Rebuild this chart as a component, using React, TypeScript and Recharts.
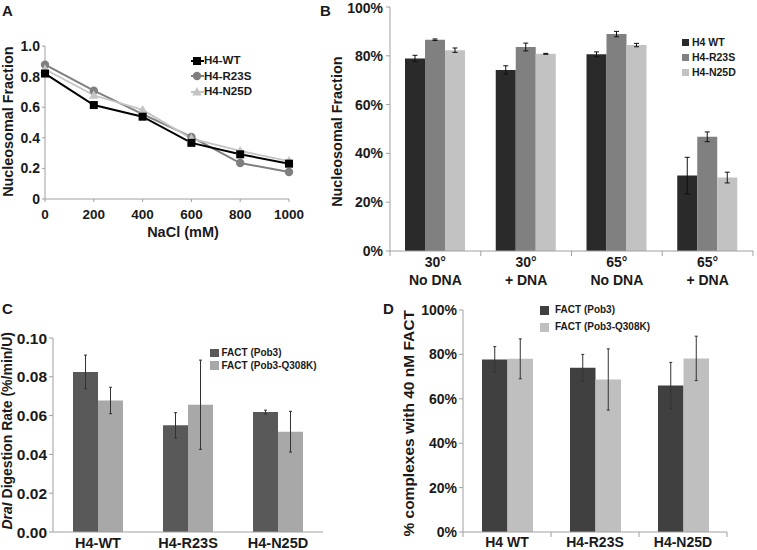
import React from 'react';
import { LineChart, Line, BarChart, Bar, XAxis, YAxis, Legend, ErrorBar } from 'recharts';

const FONT = '"Liberation Sans", Arial, Helvetica, sans-serif';
const INK = '#1a1a1a';
const AXIS = '#a0a0a0';

// A: salt titration
const saltConc = [0, 200, 400, 600, 800, 1000];
const fractionTicks = [0, 0.2, 0.4, 0.6, 0.8, 1.0];
const wtSalt = [0.82, 0.614, 0.538, 0.367, 0.292, 0.231];
const r23sSalt = [0.878, 0.708, 0.555, 0.406, 0.235, 0.176];
const n25dSalt = [0.848, 0.678, 0.582, 0.395, 0.314, 0.248];

// B: nucleosome assembly
const bTemps = ['30°', '30°', '65°', '65°'];
const bDna = ['No DNA', '+ DNA', 'No DNA', '+ DNA'];
const pctTicks = [0, 20, 40, 60, 80, 100];
const wtNuc = [78.9, 74.2, 80.6, 30.9];
const wtNucErr = [1.3, 1.7, 1.0, 7.5];
const r23sNuc = [86.6, 83.6, 88.9, 46.8];
const r23sNucErr = [0.3, 1.6, 1.1, 2.0];
const n25dNuc = [82.3, 80.8, 84.4, 30.1];
const n25dNucErr = [0.9, 0.2, 0.7, 2.2];

// C: DraI digestion
const variantsC = ['H4-WT', 'H4-R23S', 'H4-N25D'];
const rateTicks = [0, 0.02, 0.04, 0.06, 0.08, 0.1];
const pob3Rate = [0.0825, 0.055, 0.0618];
const pob3RateErr = [0.0087, 0.0065, 0.001];
const q308kRate = [0.0678, 0.0656, 0.0517];
const q308kRateErr = [0.0068, 0.023, 0.0105];

// D: complexes with 40 nM FACT
const variantsD = ['H4 WT', 'H4-R23S', 'H4-N25D'];
const pob3Complex = [77.7, 74, 66];
const pob3ComplexErr = [5.8, 6, 10.4];
const q308kComplex = [78, 68.7, 78.2];
const q308kComplexErr = [9, 13.8, 10];

const saltData = saltConc.map((nacl, i) => ({ nacl, wt: wtSalt[i], r23s: r23sSalt[i], n25d: n25dSalt[i] }));
const nucData = bTemps.map((t, i) => ({
  cond: `${t}|${bDna[i]}`,
  wt: wtNuc[i], wtErr: wtNucErr[i],
  r23s: r23sNuc[i], r23sErr: r23sNucErr[i],
  n25d: n25dNuc[i], n25dErr: n25dNucErr[i],
}));
const rateData = variantsC.map((v, i) => ({
  v, pob3: pob3Rate[i], pob3Err: pob3RateErr[i], q308k: q308kRate[i], q308kErr: q308kRateErr[i],
}));
const complexData = variantsD.map((v, i) => ({
  v, pob3: pob3Complex[i], pob3Err: pob3ComplexErr[i], q308k: q308kComplex[i], q308kErr: q308kComplexErr[i],
}));

const tickStyle = (size: number) => ({ fill: INK, fontSize: size, fontWeight: 700, fontFamily: FONT });

type Shape = 'square' | 'circle' | 'triangle';
const shapeOf: Record<string, Shape> = { wt: 'square', r23s: 'circle', n25d: 'triangle' };
const seriesOrder = ['wt', 'r23s', 'n25d', 'pob3', 'q308k'];

function marker(shape: Shape, cx: number, cy: number, color: string, key?: string) {
  if (shape === 'square') return <rect key={key} x={cx - 4} y={cy - 4} width={8} height={8} fill={color} />;
  if (shape === 'circle') return <circle key={key} cx={cx} cy={cy} r={4.2} fill={color} />;
  return <path key={key} d={`M${cx},${cy - 5}L${cx + 4.8},${cy + 3.5}L${cx - 4.8},${cy + 3.5}Z`} fill={color} />;
}

const dotFor = (shape: Shape, color: string) => (p: any) => marker(shape, p.cx, p.cy, color, `${shape}-${p.index}`);

const sorted = (payload: any[] = []) =>
  [...payload].sort((a, b) => seriesOrder.indexOf(a.dataKey) - seriesOrder.indexOf(b.dataKey));

// legend with line + marker (panel A)
const lineLegend = (props: any) => (
  <div style={{ fontFamily: FONT, fontWeight: 700, fontSize: 11.5, color: INK }}>
    {sorted(props.payload).map((p: any) => (
      <div key={p.value} style={{ display: 'flex', alignItems: 'center', height: 15.5 }}>
        <svg width={13} height={10} style={{ display: 'block' }}>
          <line x1={0} x2={13} y1={5} y2={5} stroke={p.color} strokeWidth={2} />
          {marker(shapeOf[p.dataKey], 6, 5, p.color)}
        </svg>
        <span style={{ lineHeight: 1 }}>{p.value}</span>
      </div>
    ))}
  </div>
);

// legend with square swatches (B, C, D)
const boxLegend = (size: number, box: number, gap: number, row: number) => (props: any) => (
  <div style={{ fontFamily: FONT, fontWeight: 700, fontSize: size, color: INK }}>
    {sorted(props.payload).map((p: any) => (
      <div key={p.value} style={{ display: 'flex', alignItems: 'center', height: row }}>
        <span style={{ display: 'inline-block', width: box, height: box, background: p.color, marginRight: gap }} />
        <span style={{ lineHeight: 1 }}>{p.value}</span>
      </div>
    ))}
  </div>
);

// category tick: text rows under the axis, optional tick marks at band edges
function bandTick(band: number, count: number, rows: number[], size: number, edges: boolean) {
  return (props: any) => {
    const { x, y, index, payload } = props;
    const parts = String(payload.value).split('|');
    return (
      <g>
        {edges && <line x1={x - band / 2} x2={x - band / 2} y1={y} y2={y + 5} stroke={AXIS} />}
        {edges && index === count - 1 && <line x1={x + band / 2} x2={x + band / 2} y1={y} y2={y + 5} stroke={AXIS} />}
        {parts.map((t, k) => (
          <text key={k} x={x} y={y + rows[k]} textAnchor="middle" fill={INK} fontSize={size} fontWeight={700} fontFamily={FONT}>
            {t}
          </text>
        ))}
      </g>
    );
  };
}

function PanelA() {
  return (
    <div style={{ position: 'absolute', left: 0, top: 0 }}>
      <LineChart width={330} height={250} data={saltData} margin={{ top: 46, right: 41, bottom: 21, left: 10 }}>
        <XAxis dataKey="nacl" type="number" domain={[0, 1000]} ticks={saltConc} tick={tickStyle(13.5)}
          tickSize={3} tickMargin={7} height={30} axisLine={{ stroke: AXIS }} tickLine={{ stroke: AXIS }} />
        <YAxis type="number" domain={[0, 1]} ticks={fractionTicks} width={35} tick={tickStyle(14)}
          tickFormatter={(v: number) => (v === 0 ? '0' : v.toFixed(1))} tickSize={3} tickMargin={2}
          axisLine={{ stroke: AXIS }} tickLine={{ stroke: AXIS }} />
        <Line dataKey="r23s" name="H4-R23S" stroke="#7f7f7f" strokeWidth={2} dot={dotFor('circle', '#7f7f7f')} isAnimationActive={false} />
        <Line dataKey="n25d" name="H4-N25D" stroke="#c4c4c4" strokeWidth={1.8} dot={dotFor('triangle', '#c4c4c4')} isAnimationActive={false} />
        <Line dataKey="wt" name="H4-WT" stroke="#000000" strokeWidth={2} dot={dotFor('square', '#000000')} isAnimationActive={false} />
        <Legend layout="vertical" align="center" verticalAlign="middle" content={lineLegend}
          wrapperStyle={{ left: 191, top: 53, width: 'auto', height: 'auto' }} />
      </LineChart>
    </div>
  );
}

const B_W = 427;
const B_M = { top: 7, right: 4, bottom: 9, left: 10 };
const B_YW = 50;
const B_BAND = (B_W - B_M.right - B_M.left - B_YW) / nucData.length;

function PanelB() {
  return (
    <div style={{ position: 'absolute', left: 330, top: 0 }}>
      <BarChart width={B_W} height={300} data={nucData} margin={B_M} barSize={20} barGap={0}>
        <XAxis dataKey="cond" tickLine={false} tickSize={0} tickMargin={0} height={40} interval={0}
          axisLine={{ stroke: AXIS }} tick={bandTick(B_BAND, nucData.length, [16.3, 34], 14, true)} />
        <YAxis type="number" domain={[0, 100]} ticks={pctTicks} width={B_YW} tick={tickStyle(14)}
          tickFormatter={(v: number) => `${v}%`} tickSize={4} tickMargin={3}
          axisLine={{ stroke: AXIS }} tickLine={{ stroke: AXIS }} />
        <Bar dataKey="wt" name="H4 WT" fill="#2a2a2a" isAnimationActive={false}>
          <ErrorBar dataKey="wtErr" width={2.5} stroke="#111" strokeWidth={1} isAnimationActive={false} />
        </Bar>
        <Bar dataKey="r23s" name="H4-R23S" fill="#808080" isAnimationActive={false}>
          <ErrorBar dataKey="r23sErr" width={2.5} stroke="#111" strokeWidth={1} isAnimationActive={false} />
        </Bar>
        <Bar dataKey="n25d" name="H4-N25D" fill="#c2c2c2" isAnimationActive={false}>
          <ErrorBar dataKey="n25dErr" width={2.5} stroke="#111" strokeWidth={1} isAnimationActive={false} />
        </Bar>
        <Legend layout="vertical" align="center" verticalAlign="middle" content={boxLegend(10.5, 7, 3, 15)}
          wrapperStyle={{ left: 352, top: 35, width: 'auto', height: 'auto' }} />
      </BarChart>
    </div>
  );
}

function PanelC() {
  return (
    <div style={{ position: 'absolute', left: 0, top: 270 }}>
      <BarChart width={370} height={280} data={rateData} margin={{ top: 68, right: 47, bottom: 0, left: 10 }} barSize={25} barGap={0}>
        <XAxis dataKey="v" tickLine={false} tickSize={0} tickMargin={0} height={18} interval={0}
          axisLine={{ stroke: AXIS }} tick={bandTick(0, rateData.length, [16], 14.5, false)} />
        <XAxis xAxisId="frame" orientation="top" tick={false} tickLine={false} height={0} axisLine={{ stroke: AXIS }} />
        <YAxis type="number" domain={[0, 0.1]} ticks={rateTicks} width={43} tick={tickStyle(15.5)}
          tickFormatter={(v: number) => v.toFixed(2)} tickSize={4} tickMargin={2}
          axisLine={{ stroke: AXIS }} tickLine={{ stroke: AXIS }} />
        <YAxis yAxisId="frame" orientation="right" tick={false} tickLine={false} width={0} axisLine={{ stroke: AXIS }} />
        <Bar dataKey="pob3" name="FACT (Pob3)" fill="#595959" isAnimationActive={false}>
          <ErrorBar dataKey="pob3Err" width={1.5} stroke="#333" strokeWidth={1} isAnimationActive={false} />
        </Bar>
        <Bar dataKey="q308k" name="FACT (Pob3-Q308K)" fill="#a8a8a8" isAnimationActive={false}>
          <ErrorBar dataKey="q308kErr" width={1.5} stroke="#333" strokeWidth={1} isAnimationActive={false} />
        </Bar>
        <Legend layout="vertical" align="center" verticalAlign="middle" content={boxLegend(10, 8.5, 3, 12.4)}
          wrapperStyle={{ left: 210, top: 77, width: 'auto', height: 'auto' }} />
      </BarChart>
    </div>
  );
}

const D_W = 387;
const D_M = { top: 40, right: 30, bottom: 0, left: 42 };
const D_YW = 51;
const D_BAND = (D_W - D_M.right - D_M.left - D_YW) / complexData.length;

function PanelD() {
  return (
    <div style={{ position: 'absolute', left: 370, top: 270 }}>
      <BarChart width={D_W} height={280} data={complexData} margin={D_M} barSize={25.5} barGap={0}>
        <XAxis dataKey="v" tickLine={false} tickSize={0} tickMargin={0} height={18} interval={0}
          axisLine={{ stroke: AXIS }} tick={bandTick(D_BAND, complexData.length, [15.3], 14, true)} />
        <YAxis type="number" domain={[0, 100]} ticks={pctTicks} width={D_YW} tick={tickStyle(14)}
          tickFormatter={(v: number) => `${v}%`} tickSize={4} tickMargin={2}
          axisLine={{ stroke: AXIS }} tickLine={{ stroke: AXIS }} />
        <Bar dataKey="pob3" name="FACT (Pob3)" fill="#404040" isAnimationActive={false}>
          <ErrorBar dataKey="pob3Err" width={1.5} stroke="#333" strokeWidth={1} isAnimationActive={false} />
        </Bar>
        <Bar dataKey="q308k" name="FACT (Pob3-Q308K)" fill="#bfbfbf" isAnimationActive={false}>
          <ErrorBar dataKey="q308kErr" width={1.5} stroke="#333" strokeWidth={1} isAnimationActive={false} />
        </Bar>
        <Legend layout="vertical" align="center" verticalAlign="middle" content={boxLegend(10, 9, 6, 17)}
          wrapperStyle={{ left: 170, top: 31.5, width: 'auto', height: 'auto' }} />
      </BarChart>
    </div>
  );
}

// panel letters and axis titles
function Titles() {
  const t = { fontFamily: FONT, fontWeight: 700, fill: INK } as const;
  return (
    <svg width={757} height={550} style={{ position: 'absolute', left: 0, top: 0, pointerEvents: 'none' }}>
      <text x={2} y={15.5} fontSize={15} {...t}>A</text>
      <text x={320} y={15.5} fontSize={15} {...t}>B</text>
      <text x={2} y={313.5} fontSize={15} {...t}>C</text>
      <text x={383} y={313.5} fontSize={15} {...t}>D</text>

      <text transform="translate(13.3,121.7) rotate(-90)" textAnchor="middle" fontSize={14.4} {...t}>Nucleosomal Fraction</text>
      <text x={183} y={236.5} textAnchor="middle" fontSize={14.5} {...t}>NaCl (mM)</text>

      <text transform="translate(341.5,131.7) rotate(-90)" textAnchor="middle" fontSize={14.4} {...t}>Nucleosomal Fraction</text>

      <text transform="translate(12,430.8) rotate(-90)" textAnchor="middle" fontSize={14} {...t}>
        <tspan fontStyle="italic">DraI</tspan> Digestion Rate (%/min/U)
      </text>

      <text transform="translate(414,423.3) rotate(-90)" textAnchor="middle" fontSize={15.5} {...t}>% complexes with 40 nM FACT</text>
    </svg>
  );
}

export default function App() {
  return (
    <div style={{ position: 'absolute', left: 0, top: 0, width: 757, height: 550, background: '#fff', overflow: 'hidden' }}>
      <PanelA />
      <PanelB />
      <PanelC />
      <PanelD />
      <Titles />
    </div>
  );
}
